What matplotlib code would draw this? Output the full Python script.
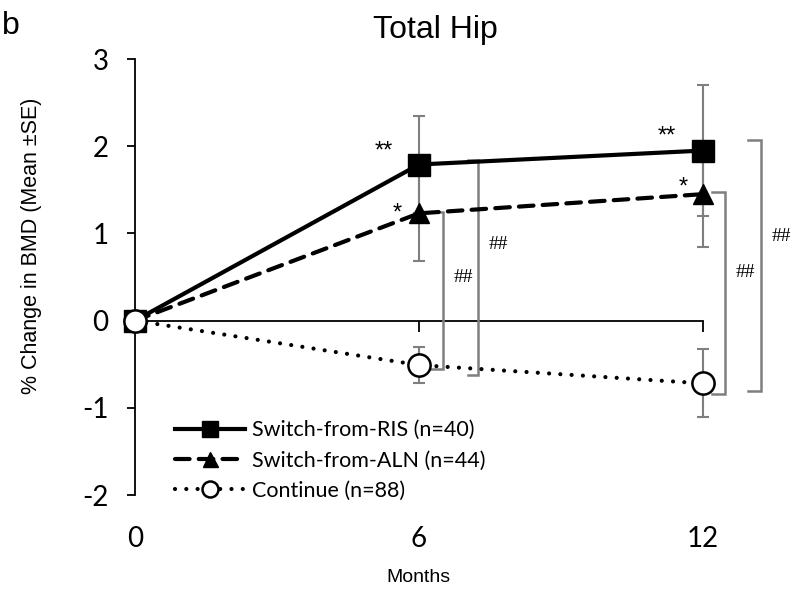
import matplotlib.pyplot as plt

months = [0, 6, 12]
ris_mean = [0.0, 1.79, 1.95]
ris_se = [0.0, 0.56, 0.75]
aln_mean = [0.0, 1.23, 1.45]
aln_se = [0.0, 0.55, 0.61]
cont_mean = [0.0, -0.51, -0.72]
cont_se = [0.0, 0.21, 0.39]
labels = ['Switch-from-RIS (n=40)', 'Switch-from-ALN (n=44)', 'Continue (n=88)']
tick_labels = ['0', '6', '12']

GRAY = '#7f7f7f'
SANS = 'Liberation Sans'
NARROW = ['Liberation Sans Narrow', 'Liberation Sans']
TICKFONT = 'Lato'
SERIF = 'Liberation Serif'

fig = plt.figure(figsize=(8.08, 5.95), dpi=100)
ax = fig.add_axes([135 / 808, 100 / 595, 673 / 808, 436 / 595])
ax.set_xlim(0, 14.22)
ax.set_ylim(-2, 3)

# error bars sit underneath the lines and markers
for mean, se in [(ris_mean, ris_se), (aln_mean, aln_se), (cont_mean, cont_se)]:
    ax.errorbar(months[1:], mean[1:], yerr=se[1:], fmt='none', ecolor=GRAY,
                elinewidth=1.5, capsize=4, capthick=1.5, zorder=2)

ax.plot(months, ris_mean, color='black', lw=3, marker='s', markersize=16,
        label=labels[0], zorder=4, clip_on=False)
ax.plot(months, aln_mean, color='black', lw=3, ls=(0, (3.5, 2.2)), dash_capstyle='round',
        marker='^', markersize=15, label=labels[1], zorder=5, clip_on=False)
ax.plot(months, cont_mean, color='black', lw=3, ls=(0, (0.01, 2.7)), dash_capstyle='round',
        marker='o', markersize=16, markerfacecolor='white', markeredgewidth=1.8,
        label=labels[2], zorder=6, clip_on=False)

# significance brackets between switch groups and the continue group
brackets = [
    # month index, upper series, x of vertical, x of horizontal start, top pad, bottom pad, label y
    (1, aln_mean, 6.51, 6.02, 0.02, -0.05, 0.49),
    (1, ris_mean, 7.25, 7.04, 0.05, -0.11, 0.87),
    (2, aln_mean, 12.47, 12.19, 0.02, -0.12, 0.55),
    (2, ris_mean, 13.23, 12.95, 0.12, -0.09, 0.96),
]
for i, upper, xv, xh, tp, bp, ly in brackets:
    top = upper[i] + tp
    bottom = cont_mean[i] + bp
    ax.plot([xh, xv, xv, xh], [top, top, bottom, bottom], color=GRAY, lw=1.8,
            zorder=3, solid_joinstyle='miter')
    ax.text(xv + 0.22, ly, '##', fontsize=14, family=SERIF, ha='left', va='center')

# stars above the switch group markers
ris_star_off = [None, (-25, 9), (-26, 10)]
aln_star_off = [None, (-16, 0), (-14, 5)]
for i in [1, 2]:
    ax.annotate('**', (months[i], ris_mean[i]), xytext=ris_star_off[i], textcoords='offset points',
                ha='center', va='center', fontsize=17, family=SANS)
    ax.annotate('*', (months[i], aln_mean[i]), xytext=aln_star_off[i], textcoords='offset points',
                ha='center', va='center', fontsize=17, family=SANS)

# horizontal zero line with its own ticks
ax.spines['bottom'].set_position(('data', 0))
ax.spines['bottom'].set_bounds(months[0], months[-1])
ax.spines['bottom'].set_linewidth(1.3)
ax.spines['left'].set_linewidth(1.3)
ax.spines['top'].set_visible(False)
ax.spines['right'].set_visible(False)
ax.set_xticks(months[1:])
ax.set_xticklabels([])
ax.tick_params(axis='x', direction='out', length=8, width=1.3)

ax.set_yticks([-2, -1, 0, 1, 2, 3])
ax.set_yticklabels(['-2', '-1', '0', '1', '2', '3'], fontsize=20, family=TICKFONT)
ax.tick_params(axis='y', direction='out', length=6, width=1.3, pad=13)

sec = ax.secondary_xaxis(0.0)
sec.set_xticks(months)
sec.set_xticklabels(tick_labels, fontsize=20, family=TICKFONT)
sec.tick_params(length=0, pad=22)
sec.spines['bottom'].set_visible(False)

ax.set_ylabel('% Change in BMD (Mean \u00b1SE)', fontsize=15.5, family=SANS)
ax.yaxis.set_label_coords(-0.138, 0.571)
fig.text(418 / 808, 1 - 578 / 595, 'Months', fontsize=14, family=NARROW, ha='center', va='center')
fig.text(435 / 808, 1 - 30 / 595, 'Total Hip', fontsize=23, family=SANS, ha='center', va='center')
fig.text(2 / 808, 1 - 26 / 595, 'b', fontsize=23, family=SANS, ha='left', va='center')

leg = ax.legend(loc='upper left', bbox_to_anchor=(0.046, 0.191), frameon=False,
                fontsize=15.5, handlelength=3.25, handletextpad=0.37, labelspacing=0.47,
                markerscale=0.72, borderaxespad=0)
for t in leg.get_texts():
    t.set_family(TICKFONT)

fig.savefig('out.png', dpi=100)
